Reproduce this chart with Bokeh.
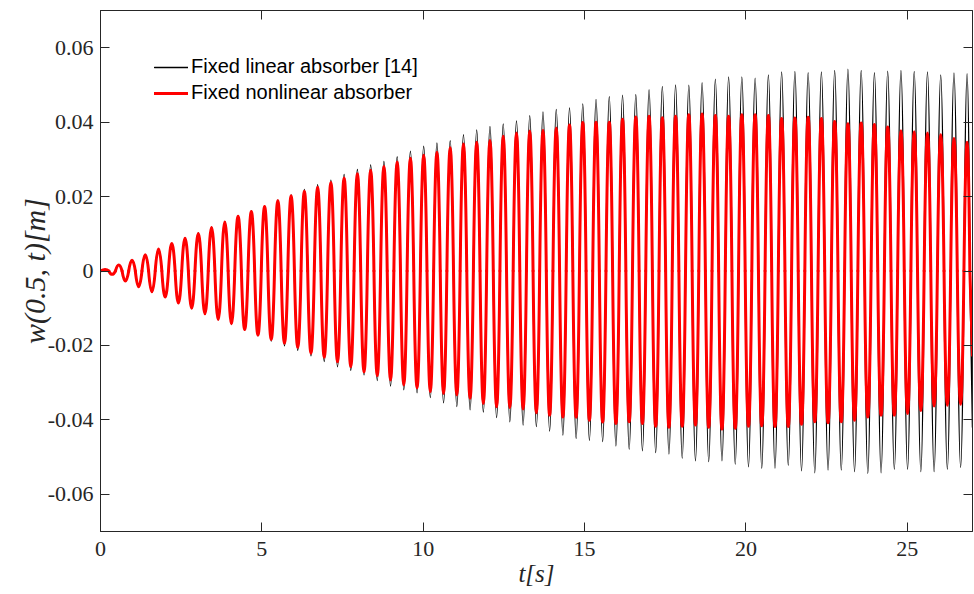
from bokeh.plotting import figure
from bokeh.models import FixedTicker, LinearAxis, Range1d, Legend, LegendItem
from bokeh.embed import file_html
from bokeh.resources import INLINE

# ---------------- data ----------------
# times of successive maxima / minima of the response [s]
t_peaks = [0.155, 0.566, 0.977, 1.387, 1.798, 2.209, 2.620, 3.031, 3.441, 3.852,
           4.263, 4.674, 5.085, 5.495, 5.906, 6.317, 6.728, 7.139, 7.549, 7.960,
           8.371, 8.782, 9.193, 9.603, 10.014, 10.425, 10.836, 11.247, 11.657, 12.068,
           12.479, 12.890, 13.301, 13.711, 14.122, 14.533, 14.944, 15.355, 15.765, 16.176,
           16.587, 16.998, 17.409, 17.819, 18.230, 18.641, 19.052, 19.463, 19.873, 20.284,
           20.695, 21.106, 21.517, 21.927, 22.338, 22.749, 23.160, 23.571, 23.981, 24.392,
           24.803, 25.214, 25.625, 26.035, 26.446, 26.857]
t_troughs = [0.360, 0.771, 1.182, 1.593, 2.004, 2.414, 2.825, 3.236, 3.647, 4.058,
             4.468, 4.879, 5.290, 5.701, 6.112, 6.522, 6.933, 7.344, 7.755, 8.166,
             8.576, 8.987, 9.398, 9.809, 10.220, 10.630, 11.041, 11.452, 11.863, 12.274,
             12.684, 13.095, 13.506, 13.917, 14.328, 14.738, 15.149, 15.560, 15.971, 16.382,
             16.792, 17.203, 17.614, 18.025, 18.436, 18.846, 19.257, 19.668, 20.079, 20.490,
             20.900, 21.311, 21.722, 22.133, 22.544, 22.954, 23.365, 23.776, 24.187, 24.598,
             25.008, 25.419, 25.830, 26.241, 26.652]
t_first, t_last = 0.0, 27.02

# fixed linear absorber [14]  (black)
lin_peaks = [0.0004, 0.0016, 0.0029, 0.0044, 0.0059, 0.0074, 0.0088, 0.0102, 0.0118, 0.0133,
             0.0148, 0.0162, 0.0175, 0.0191, 0.0205, 0.0219, 0.0232, 0.0244, 0.0259, 0.0273,
             0.0285, 0.0294, 0.0307, 0.0322, 0.0335, 0.0344, 0.0350, 0.0366, 0.0379, 0.0388,
             0.0395, 0.0403, 0.0417, 0.0427, 0.0434, 0.0438, 0.0449, 0.0461, 0.0468, 0.0472,
             0.0474, 0.0487, 0.0496, 0.0500, 0.0499, 0.0506, 0.0515, 0.0521, 0.0521, 0.0518,
             0.0527, 0.0535, 0.0536, 0.0533, 0.0535, 0.0539, 0.0542, 0.0539, 0.0533, 0.0537,
             0.0539, 0.0536, 0.0535, 0.0527, 0.0532, 0.0530]
lin_troughs = [-0.0009, -0.0027, -0.0042, -0.0057, -0.0071, -0.0087, -0.0101, -0.0116, -0.0131, -0.0144,
               -0.0159, -0.0174, -0.0188, -0.0201, -0.0213, -0.0228, -0.0243, -0.0257, -0.0267, -0.0279,
               -0.0294, -0.0309, -0.0319, -0.0327, -0.0340, -0.0354, -0.0364, -0.0373, -0.0379, -0.0394,
               -0.0405, -0.0414, -0.0418, -0.0430, -0.0441, -0.0450, -0.0455, -0.0458, -0.0470, -0.0479,
               -0.0483, -0.0488, -0.0492, -0.0503, -0.0510, -0.0512, -0.0510, -0.0519, -0.0526, -0.0530,
               -0.0530, -0.0522, -0.0537, -0.0542, -0.0535, -0.0535, -0.0539, -0.0544, -0.0542, -0.0533,
               -0.0533, -0.0539, -0.0539, -0.0533, -0.0528]
lin_first, lin_last = 0.0, -0.0420

# fixed nonlinear absorber  (red)
non_peaks = [0.0004, 0.0016, 0.0029, 0.0044, 0.0059, 0.0074, 0.0088, 0.0101, 0.0117, 0.0132,
             0.0147, 0.0160, 0.0173, 0.0189, 0.0202, 0.0214, 0.0225, 0.0238, 0.0250, 0.0261,
             0.0271, 0.0281, 0.0293, 0.0303, 0.0311, 0.0319, 0.0331, 0.0341, 0.0346, 0.0351,
             0.0362, 0.0371, 0.0376, 0.0378, 0.0384, 0.0392, 0.0399, 0.0400, 0.0400, 0.0408,
             0.0414, 0.0416, 0.0412, 0.0416, 0.0420, 0.0422, 0.0418, 0.0416, 0.0420, 0.0420,
             0.0418, 0.0410, 0.0411, 0.0413, 0.0410, 0.0402, 0.0396, 0.0398, 0.0394, 0.0387,
             0.0377, 0.0374, 0.0371, 0.0366, 0.0356, 0.0346]
non_troughs = [-0.0009, -0.0027, -0.0042, -0.0056, -0.0070, -0.0086, -0.0100, -0.0115, -0.0130, -0.0142,
               -0.0157, -0.0172, -0.0184, -0.0194, -0.0205, -0.0221, -0.0232, -0.0244, -0.0257, -0.0271,
               -0.0281, -0.0293, -0.0306, -0.0314, -0.0324, -0.0329, -0.0333, -0.0342, -0.0356, -0.0365,
               -0.0367, -0.0371, -0.0381, -0.0387, -0.0392, -0.0393, -0.0401, -0.0406, -0.0410, -0.0405,
               -0.0410, -0.0417, -0.0420, -0.0417, -0.0414, -0.0420, -0.0425, -0.0423, -0.0417, -0.0416,
               -0.0418, -0.0418, -0.0412, -0.0405, -0.0408, -0.0405, -0.0401, -0.0392, -0.0387, -0.0387,
               -0.0383, -0.0375, -0.0363, -0.0361, -0.0358]
non_first, non_last = 0.0, -0.0227

series_names = ["Fixed linear absorber [14]", "Fixed nonlinear absorber"]
x_ticks = [0, 5, 10, 15, 20, 25]
x_tick_labels = ["0", "5", "10", "15", "20", "25"]
y_ticks = [-0.06, -0.04, -0.02, 0, 0.02, 0.04, 0.06]
y_tick_labels = ["-0.06", "-0.04", "-0.02", "0", "0.02", "0.04", "0.06"]


def arches(peaks, troughs, first, last):
    """Each half-oscillation is drawn as one quadratic arc whose apex is the
    extremum read from the picture; arcs meet on the zero line."""
    ext_t, ext_v = [], []
    for k in range(len(peaks)):
        ext_t.append(t_peaks[k]); ext_v.append(peaks[k])
        if k < len(troughs):
            ext_t.append(t_troughs[k]); ext_v.append(troughs[k])
    joins = [t_first] + [(a + b) / 2 for a, b in zip(ext_t[:-1], ext_t[1:])] \
        + [(ext_t[-1] + t_last) / 2]
    d = dict(x0=[], y0=[], x1=[], y1=[], cx=[], cy=[])
    for i, (tc, vc) in enumerate(zip(ext_t, ext_v)):
        d["x0"].append(joins[i]); d["y0"].append(first if i == 0 else 0.0)
        d["x1"].append(joins[i + 1]); d["y1"].append(0.0)
        d["cx"].append(tc); d["cy"].append(2 * vc)
    # final partial swing up to the end of the record
    d["x0"].append(joins[-1]); d["y0"].append(0.0)
    d["x1"].append(t_last); d["y1"].append(last)
    d["cx"].append((joins[-1] + t_last) / 2); d["cy"].append(last / 2)
    return d


ink = "#262626"
serif = "Liberation Serif"

p = figure(width=974, height=594, x_range=Range1d(0, t_last), y_range=Range1d(-0.07, 0.07),
           output_backend="svg", toolbar_location=None,
           min_border_left=100, min_border_right=2, min_border_top=10, min_border_bottom=63)
p.xgrid.visible = False
p.ygrid.visible = False
p.outline_line_color = ink
p.background_fill_color = "white"
p.border_fill_color = "white"

r_lin = p.quadratic(**arches(lin_peaks, lin_troughs, lin_first, lin_last),
                    line_color="black", line_width=1.5, line_cap="round")
r_non = p.quadratic(**arches(non_peaks, non_troughs, non_first, non_last),
                    line_color="#ff0000", line_width=3.0, line_cap="round")

x_bot = p.xaxis[0]
y_left = p.yaxis[0]


def style_axis(ax, ticks, labels, show_labels):
    ax.ticker = FixedTicker(ticks=ticks)
    ax.major_tick_in = 9
    ax.major_tick_out = 0
    ax.minor_tick_in = 0
    ax.minor_tick_out = 0
    ax.axis_line_color = ink
    ax.major_tick_line_color = ink
    if show_labels:
        ax.major_label_overrides = {v: s for v, s in zip(ticks, labels)}
        ax.major_label_text_font = serif
        ax.major_label_text_font_size = "22px"
        ax.major_label_text_color = ink
    else:
        ax.major_label_overrides = {v: "" for v in ticks}
        ax.major_label_text_font_size = "1px"
        ax.major_label_standoff = 0


style_axis(x_bot, x_ticks, x_tick_labels, True)
style_axis(y_left, y_ticks, y_tick_labels, True)
x_bot.major_label_standoff = 10
y_left.major_label_standoff = 7

top_ax = LinearAxis()
right_ax = LinearAxis()
style_axis(top_ax, x_ticks, x_tick_labels, False)
style_axis(right_ax, y_ticks, y_tick_labels, False)
p.add_layout(top_ax, "above")
p.add_layout(right_ax, "right")

x_bot.axis_label = "t[s]"
y_left.axis_label = "w(0.5, t)[m]"
for ax in (x_bot, y_left):
    ax.axis_label_text_font = serif
    ax.axis_label_text_font_style = "italic"
    ax.axis_label_text_color = ink
x_bot.axis_label_text_font_size = "25px"
y_left.axis_label_text_font_size = "30px"
x_bot.axis_label_standoff = 1
y_left.axis_label_standoff = -6

legend = Legend(items=[LegendItem(label=series_names[0], renderers=[r_lin]),
                       LegendItem(label=series_names[1], renderers=[r_non])],
                location=(54, 427), margin=0, padding=0, spacing=3,
                glyph_width=34, glyph_height=20, label_height=20, label_standoff=3,
                label_text_font="Liberation Sans", label_text_font_size="20px",
                label_text_color="black",
                border_line_alpha=0, background_fill_alpha=0)
p.add_layout(legend)

open("out.html", "w").write(file_html(p, INLINE))
